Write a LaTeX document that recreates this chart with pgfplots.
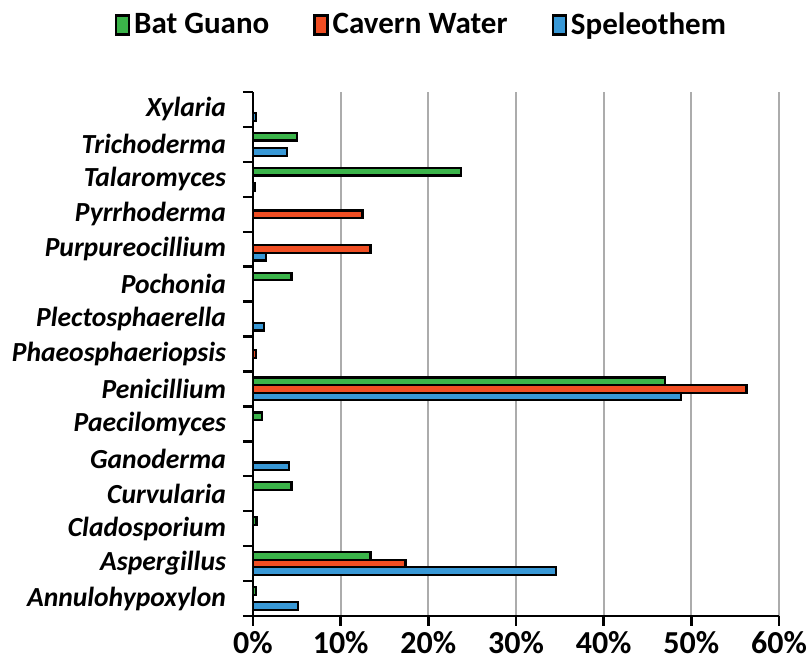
\documentclass[border=0pt]{standalone}
\usepackage{fontspec}
\setmainfont{Carlito}
\usepackage{pgfplots}
\pgfplotsset{compat=1.18}
\definecolor{cgreen}{RGB}{59,180,74}
\definecolor{cred}{RGB}{240,78,35}
\definecolor{cblue}{RGB}{56,152,214}
\begin{document}
\begin{tikzpicture}
\path[use as bounding box] (0,0) rectangle (404.5pt,334pt);
\begin{axis}[
  at={(126.5pt,26pt)}, anchor=south west,
  scale only axis, width=263pt, height=262pt,
  xbar=0pt, bar width=3.8pt,
  xmin=0, xmax=60, ymin=-0.5, ymax=14.5,
  axis x line*=bottom, axis y line*=left,
  axis line style={line width=1.2pt, -},
  xtick={0,10,...,60},
  xticklabels={0\%,10\%,20\%,30\%,40\%,50\%,60\%},
  ytick={0,...,14},
  yticklabels={Annulohypoxylon,Aspergillus,Cladosporium,Curvularia,Ganoderma,Paecilomyces,Penicillium,Phaeosphaeriopsis,Plectosphaerella,Pochonia,Purpureocillium,Pyrrhoderma,Talaromyces,Trichoderma,Xylaria},
  minor ytick={-0.5,0.5,...,14.5},
  major tick length=5pt, minor tick length=5pt,
  tick align=outside,
  major y tick style={draw=none},
  tick style={line width=1.2pt, black},
  xmajorgrids, grid style={draw=gray!65, line width=1pt},
  x tick label style={font=\fontsize{16}{19}\selectfont\bfseries, yshift=-1.5pt, inner ysep=1pt},
  y tick label style={font=\fontsize{13.8}{16}\selectfont\bfseries\itshape, xshift=-5pt},
  reverse legend,
  legend style={at={(0.322,1.128)}, anchor=center, legend columns=3, draw=none, fill=none,
    font=\fontsize{15.5}{18}\selectfont\bfseries,
    /tikz/every even column/.append style={column sep=20pt}},
  legend image code/.code={\draw[#1,line width=1.2pt] (-2pt,-4.7pt) rectangle (4.5pt,4.7pt);},
]
\addplot[fill=cblue, draw=black, line width=1.1pt] coordinates {
  (5.1,0) (34.6,1) (4.1,4) (48.8,6) (1.3,8) (1.5,10) (0.2,12) (3.9,13) (0.3,14)};
\addplot[fill=cred, draw=black, line width=1.1pt] coordinates {
  (17.4,1) (56.3,6) (0.3,7) (13.4,10) (12.5,11)};
\addplot[fill=cgreen, draw=black, line width=1.1pt] coordinates {
  (0.3,0) (13.4,1) (0.4,2) (4.4,3) (1.0,5) (47.0,6) (4.4,9) (23.7,12) (5.0,13)};
\legend{Speleothem,Cavern Water,Bat Guano}
\end{axis}
\end{tikzpicture}
\end{document}
